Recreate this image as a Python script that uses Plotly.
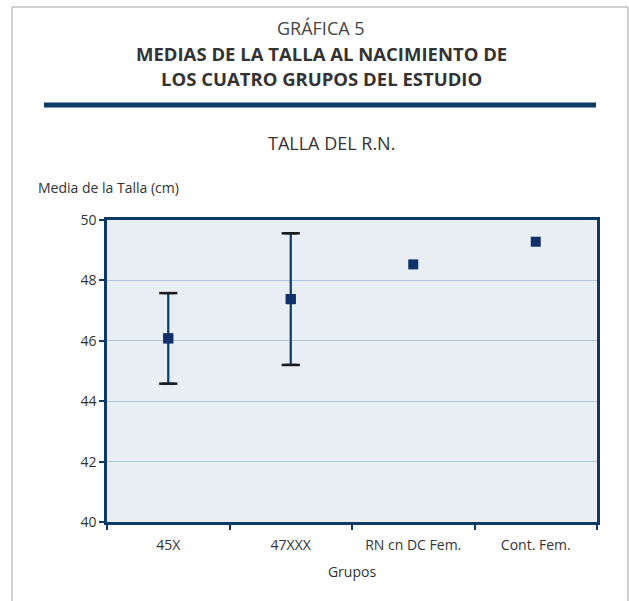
import plotly.graph_objects as go

# Group means of birth length (cm) and their error-bar half-widths
grupos = ["45X", "47XXX", "RN cn DC Fem.", "Cont. Fem."]
medias = [46.08, 47.38, 48.53, 49.28]
errores = [1.50, 2.18, None, None]
y_ticks = [40, 42, 44, 46, 48, 50]

NAVY = "#0d3a66"
MARK = "#10306a"
FONT = "Open Sans"

con_error = [(g, m, e) for g, m, e in zip(grupos, medias, errores) if e is not None]

fig = go.Figure()
# error bars only for groups that have a spread
fig.add_trace(go.Scatter(
    x=[c[0] for c in con_error],
    y=[c[1] for c in con_error],
    mode="markers",
    marker=dict(symbol="square", size=10, color=MARK),
    error_y=dict(type="data", array=[c[2] for c in con_error],
                 visible=True, color=NAVY, thickness=2.2, width=6),
    showlegend=False,
))
# black caps drawn over the navy error bars
fig.add_trace(go.Scatter(
    x=[c[0] for c in con_error] * 2,
    y=[c[1] + c[2] for c in con_error] + [c[1] - c[2] for c in con_error],
    mode="markers",
    marker=dict(symbol="line-ew", size=13, line=dict(width=2.5, color="#1a1a1a")),
    showlegend=False, hoverinfo="skip",
))
# means on top
fig.add_trace(go.Scatter(
    x=grupos, y=medias, mode="markers",
    marker=dict(symbol="square", size=10, color=MARK),
    showlegend=False,
))

fig.update_layout(
    width=629, height=601,
    margin=dict(l=107, r=32, t=220, b=79),
    paper_bgcolor="white",
    plot_bgcolor="#e9eef4",
    font=dict(family=FONT, color="#333333", size=13),
    xaxis=dict(
        type="category", range=[-0.5, 3.5], tickson="boundaries",
        showgrid=False, ticks="outside", ticklen=5, tickwidth=2, tickcolor=NAVY,
        showline=True, linecolor=NAVY, linewidth=2.5, mirror=True,
        tickfont=dict(size=14, color="#333333"), ticklabelstandoff=8,
        title=dict(text="Grupos", font=dict(size=14, color="#333333"), standoff=15),
        zeroline=False,
    ),
    yaxis=dict(
        range=[40, 50], tickvals=y_ticks, ticktext=[str(v) for v in y_ticks],
        showgrid=True, gridcolor="#b3c5dc", gridwidth=1.2,
        ticks="outside", ticklen=5, tickwidth=2, tickcolor=NAVY,
        showline=True, linecolor=NAVY, linewidth=2.5, mirror=True,
        tickfont=dict(size=14, color="#333333"), zeroline=False,
    ),
)

# outer frame
fig.add_shape(type="rect", xref="paper", yref="paper",
              x0=-95 / 490, x1=521 / 490, y0=-0.3, y1=1 + 213 / 302,
              line=dict(color="#a0a0a0", width=1), layer="below")
# heavy rule under the heading
fig.add_shape(type="line", xref="paper", yref="paper",
              x0=-63 / 490, x1=489 / 490, y0=1 + 115 / 302, y1=1 + 115 / 302,
              line=dict(color=NAVY, width=5))

def ypix(py):
    # convert a page pixel row to paper coordinates
    return 1 + (220 - py) / 302

def xpix(px):
    return (px - 107) / 490

def texto(t, px, py, size, xanchor="center", color="#333333"):
    fig.add_annotation(text=t, x=xpix(px), y=ypix(py), xref="paper", yref="paper",
                       xanchor=xanchor, yanchor="middle", showarrow=False, borderpad=0,
                       font=dict(size=size, color=color, family=FONT))

texto("GRÁFICA 5", 321, 28, 18, color="#444444")
texto("<b>MEDIAS DE LA TALLA AL NACIMIENTO DE</b>", 321, 53.5, 18.5)
texto("<b>LOS CUATRO GRUPOS DEL ESTUDIO</b>", 321, 78, 18.5)
texto("TALLA DEL R.N.", 331, 143, 18)
texto("Media de la Talla (cm)", 37, 187, 14, xanchor="left")

fig.write_html("out.html")
